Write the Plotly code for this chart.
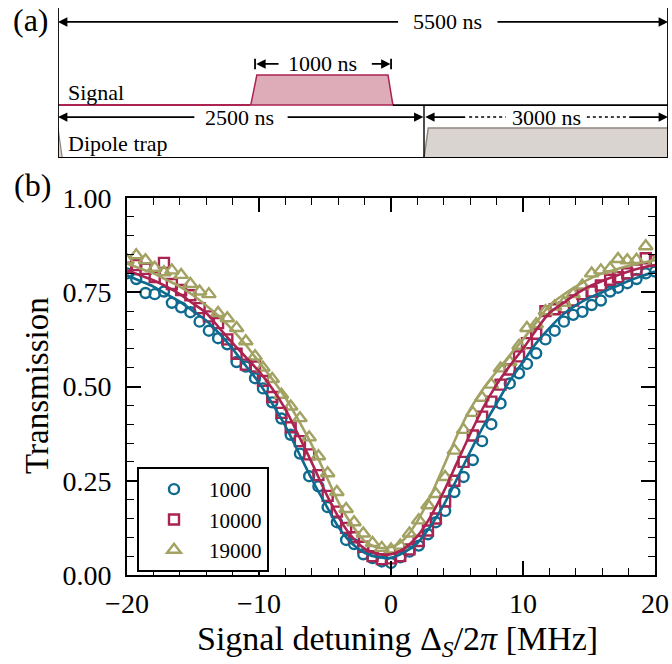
import plotly.graph_objects as go

# ---------------- data (panel b) ----------------
detuning = [-20.0, -19.3, -18.6, -17.9, -17.2, -16.6, -15.9, -15.2, -14.5, -13.8,
            -13.1, -12.4, -11.7, -11.0, -10.3, -9.7, -9.0, -8.3, -7.6, -6.9,
            -6.2, -5.5, -4.8, -4.1, -3.4, -2.8, -2.1, -1.4, -0.7, 0.0,
            0.7, 1.4, 2.1, 2.8, 3.4, 4.1, 4.8, 5.5, 6.2, 6.9,
            7.6, 8.3, 9.0, 9.7, 10.3, 11.0, 11.7, 12.4, 13.1, 13.8,
            14.5, 15.2, 15.9, 16.6, 17.2, 17.9, 18.6, 19.3, 20.0]

T_1000 = [0.800, 0.785, 0.748, 0.745, 0.752, 0.722, 0.710, 0.697, 0.672, 0.648,
          0.628, 0.612, 0.565, 0.553, 0.522, 0.495, 0.458, 0.415, 0.372, 0.322,
          0.262, 0.235, 0.180, 0.140, 0.093, 0.082, 0.055, 0.045, 0.036, 0.032,
          0.047, 0.062, 0.078, 0.108, 0.140, 0.170, 0.220, 0.260, 0.305, 0.355,
          0.400, 0.455, 0.508, 0.535, 0.560, 0.588, 0.625, 0.648, 0.672, 0.690,
          0.698, 0.716, 0.728, 0.752, 0.762, 0.774, 0.785, 0.800, 0.805]

T_10000 = [0.815, 0.822, 0.812, 0.790, 0.828, 0.772, 0.756, 0.742, 0.708, 0.686,
           0.668, 0.625, 0.587, 0.558, 0.553, 0.515, 0.472, 0.430, 0.392, 0.355,
           0.320, 0.265, 0.210, 0.168, 0.125, 0.100, 0.075, 0.050, 0.042, 0.044,
           0.050, 0.068, 0.090, 0.118, 0.150, 0.195, 0.250, 0.300, 0.370, 0.420,
           0.460, 0.505, 0.545, 0.580, 0.615, 0.640, 0.700, 0.705, 0.710, 0.728,
           0.745, 0.752, 0.768, 0.783, 0.790, 0.800, 0.810, 0.840, 0.835]

T_19000 = [0.835, 0.848, 0.835, 0.815, 0.803, 0.808, 0.796, 0.772, 0.752, 0.745,
           0.695, 0.681, 0.655, 0.620, 0.580, 0.550, 0.520, 0.478, 0.447, 0.416,
           0.365, 0.315, 0.270, 0.220, 0.175, 0.140, 0.110, 0.085, 0.072, 0.068,
           0.078, 0.110, 0.145, 0.185, 0.215, 0.260, 0.330, 0.385, 0.430, 0.470,
           0.505, 0.548, 0.565, 0.608, 0.655, 0.665, 0.700, 0.712, 0.722, 0.745,
           0.768, 0.800, 0.808, 0.813, 0.838, 0.835, 0.836, 0.872, 0.830]

fit_detuning = [-20, -19, -18, -17, -16, -15, -14, -13, -12, -11, -10, -9, -8, -7,
                -6, -5, -4, -3, -2, -1, 0, 1, 2, 3, 4, 5, 6, 7, 8, 9, 10, 11, 12,
                13, 14, 15, 16, 17, 18, 19, 20]

fit_1000 = [0.795, 0.780, 0.765, 0.745, 0.725, 0.700, 0.675, 0.640, 0.600, 0.555,
            0.510, 0.455, 0.395, 0.325, 0.254, 0.190, 0.128, 0.085, 0.059, 0.047,
            0.046, 0.060, 0.085, 0.130, 0.186, 0.255, 0.327, 0.395, 0.455, 0.515,
            0.565, 0.615, 0.655, 0.690, 0.715, 0.735, 0.750, 0.765, 0.780, 0.793, 0.805]

fit_10000 = [0.808, 0.795, 0.782, 0.765, 0.745, 0.720, 0.695, 0.655, 0.615, 0.578,
             0.540, 0.495, 0.440, 0.370, 0.298, 0.222, 0.155, 0.103, 0.070, 0.056,
             0.055, 0.070, 0.103, 0.155, 0.222, 0.298, 0.374, 0.445, 0.505, 0.555,
             0.600, 0.650, 0.695, 0.720, 0.745, 0.765, 0.780, 0.793, 0.805, 0.815, 0.822]

fit_19000 = [0.826, 0.813, 0.800, 0.783, 0.765, 0.742, 0.715, 0.685, 0.650, 0.610,
             0.565, 0.520, 0.470, 0.410, 0.345, 0.270, 0.194, 0.135, 0.090, 0.073,
             0.074, 0.095, 0.143, 0.210, 0.289, 0.370, 0.440, 0.495, 0.540, 0.583,
             0.625, 0.670, 0.715, 0.742, 0.765, 0.785, 0.800, 0.810, 0.820, 0.828, 0.835]

legend_labels = ["1000", "10000", "19000"]
x_ticks = [-20, -10, 0, 10, 20]
y_ticks = [0.0, 0.25, 0.5, 0.75, 1.0]

# ---------------- timing diagram (panel a) ----------------
durations = [5500, 1000, 2500, 3000]
duration_labels = [f"{d} ns" for d in durations]
row_labels = ["Signal", "Dipole trap"]

# ---------------- styling ----------------
W, H = 672, 664
FONT = "Liberation Serif"
BLUE = "#0e6b8f"
RED = "#ab2350"
OLIVE = "#a2a263"
PINK = "#deabb9"
GREY = "#d9d4cf"
GREY_LINE = "#8e877f"


def px(xp):
    return xp / W


def py(yp):
    return 1 - yp / H


fig = go.Figure()

series = [
    (T_1000, fit_1000, BLUE, "circle-open", 10),
    (T_10000, fit_10000, RED, "square-open", 10),
    (T_19000, fit_19000, OLIVE, "triangle-up-open", 12),
]
for (vals, fit, col, sym, size), name in zip(series, legend_labels):
    fig.add_trace(go.Scatter(
        x=detuning, y=vals, mode="markers", name=name,
        marker=dict(symbol=sym, size=size, color=col, line=dict(color=col, width=2.4)),
    ))
for (vals, fit, col, sym, size), name in zip(series, legend_labels):
    fig.add_trace(go.Scatter(
        x=fit_detuning, y=fit, mode="lines", showlegend=False,
        line=dict(color=col, width=2.6, shape="spline", smoothing=0.8),
    ))

# ---- panel (a) schematic, in diagram units (x: 0..1 across the box, y: 0..1) ----
SIG_BASE, SIG_TOP, TRAP_TOP = 0.353, 0.553, 0.20
ROW_TOP, ROW_PULSE, ROW_2 = 0.907, 0.627, 0.273
P_ON0, P_ON1, P_OFF1, P_OFF0 = 0.316, 0.326, 0.541, 0.549
TRAP_ON0, TRAP_ON1 = 0.600, 0.607

# pulse
fig.add_trace(go.Scatter(
    x=[P_ON0, P_ON1, P_OFF1, P_OFF0, P_ON0], y=[SIG_BASE, SIG_TOP, SIG_TOP, SIG_BASE, SIG_BASE],
    mode="lines", fill="toself", fillcolor=PINK, line=dict(color=RED, width=1.5),
    xaxis="x2", yaxis="y2", showlegend=False, hoverinfo="skip"))
fig.add_trace(go.Scatter(
    x=[0, P_ON0], y=[SIG_BASE, SIG_BASE], mode="lines", line=dict(color=RED, width=2),
    xaxis="x2", yaxis="y2", showlegend=False, hoverinfo="skip"))
# trap
fig.add_trace(go.Scatter(
    x=[TRAP_ON0, TRAP_ON1, 1, 1, TRAP_ON0], y=[0, TRAP_TOP, TRAP_TOP, 0, 0],
    mode="lines", fill="toself", fillcolor=GREY, line=dict(color=GREY_LINE, width=1.5),
    xaxis="x2", yaxis="y2", showlegend=False, hoverinfo="skip"))
fig.add_trace(go.Scatter(
    x=[0, 0, 0.007, 0], y=[0, TRAP_TOP, 0, 0],
    mode="lines", fill="toself", fillcolor=GREY, line=dict(color=GREY_LINE, width=1.2),
    xaxis="x2", yaxis="y2", showlegend=False, hoverinfo="skip"))

shapes = []
def dline(x0, y0, x1, y1, width=1.6, dash="solid", color="black"):
    shapes.append(dict(type="line", xref="x2", yref="y2", x0=x0, y0=y0, x1=x1, y1=y1,
                       line=dict(color=color, width=width, dash=dash), layer="above"))

dline(0, 0, 0, 1, 1.8)
dline(1, 0, 1, 1, 1.8)
dline(0, 0, 1, 0, 1.8)
dline(P_OFF0, SIG_BASE, 1, SIG_BASE, 1.8)
dline(TRAP_ON0, 0, TRAP_ON0, SIG_BASE, 1.4)
dline(0.323, ROW_PULSE - 0.035, 0.323, ROW_PULSE + 0.035, 1.8)
dline(0.546, ROW_PULSE - 0.035, 0.546, ROW_PULSE + 0.035, 1.8)
dline(0.674, ROW_2, 0.734, ROW_2, 1.6, "dot")
dline(0.867, ROW_2, 0.931, ROW_2, 1.6, "dot")

annotations = []
def arrow(head, tail, y):
    annotations.append(dict(x=head, y=y, ax=tail, ay=y, xref="x2", yref="y2", axref="x2",
                            ayref="y2", text="", showarrow=True, arrowhead=2, arrowsize=1.1,
                            arrowwidth=1.7, arrowcolor="black", standoff=0, startstandoff=0))

def dtext(x, y, s, size=22, anchor="center"):
    annotations.append(dict(x=x, y=y, xref="x2", yref="y2", text=s, showarrow=False,
                            xanchor=anchor, yanchor="middle",
                            font=dict(family=FONT, size=size, color="black")))

arrow(0.0, 0.560, ROW_TOP); arrow(1.0, 0.718, ROW_TOP)
dtext(0.638, ROW_TOP, duration_labels[0])
arrow(0.325, 0.364, ROW_PULSE); arrow(0.545, 0.512, ROW_PULSE)
dtext(0.433, ROW_PULSE, duration_labels[1])
arrow(0.0, 0.226, ROW_2); arrow(0.599, 0.374, ROW_2)
dtext(0.298, ROW_2, duration_labels[2])
arrow(0.602, 0.670, ROW_2); arrow(1.0, 0.934, ROW_2)
dtext(0.80, ROW_2, duration_labels[3])
dtext(0.013, 0.44, row_labels[0], 22, "left")
dtext(0.013, 0.10, row_labels[1], 22, "left")

# panel letters and axis titles
def ptext(xp, yp, s, size=27, angle=0):
    annotations.append(dict(x=px(xp), y=py(yp), xref="paper", yref="paper", text=s,
                            xanchor="center", yanchor="middle", textangle=angle,
                            showarrow=False, font=dict(family=FONT, size=size, color="black")))

ptext(31, 20, "(a)", 32)
ptext(32, 185, "(b)", 32)
ptext(37, 386, "Transmission", 33, -90)
ptext(397, 641, "Signal detuning Δ<sub><i>S</i></sub>/2<i>π</i> [MHz]", 34)

axis_common = dict(showline=True, linewidth=2, linecolor="black", mirror="allticks",
                   ticks="inside", ticklen=14, tickwidth=1.6, tickcolor="black",
                   showgrid=False, zeroline=False, automargin=False,
                   tickfont=dict(family=FONT, size=28, color="black"))

fig.update_layout(
    width=W, height=H, margin=dict(l=0, r=0, t=0, b=0, pad=0, autoexpand=False),
    paper_bgcolor="white", plot_bgcolor="white",
    showlegend=True,
    xaxis=dict(domain=[px(127), px(655)], range=[-20, 20], tickvals=x_ticks,
               minor=dict(ticks="inside", ticklen=7, tickwidth=1.3, dtick=2, tickcolor="black"),
               ticklabelstandoff=2, anchor="y", **axis_common),
    yaxis=dict(domain=[py(575), py(198)], range=[0, 1], tickvals=y_ticks, tickformat=".2f",
               minor=dict(ticks="inside", ticklen=7, tickwidth=1.3, dtick=0.05, tickcolor="black"),
               ticklabelstandoff=8, anchor="x", **axis_common),
    xaxis2=dict(domain=[px(58), px(668)], range=[0, 1], visible=False, anchor="y2",
                automargin=False),
    yaxis2=dict(domain=[py(158), py(8)], range=[0, 1], visible=False, anchor="x2",
                automargin=False),
    legend=dict(x=px(137), y=py(467), xanchor="left", yanchor="top",
                bgcolor="white", bordercolor="black", borderwidth=2,
                font=dict(family=FONT, size=21, color="black"),
                itemwidth=60, tracegroupgap=0),
    shapes=shapes, annotations=annotations,
)

fig.write_html("out.html", config={"displayModeBar": False},
               post_script="document.body.style.margin='0px';document.body.style.overflow='hidden';")
